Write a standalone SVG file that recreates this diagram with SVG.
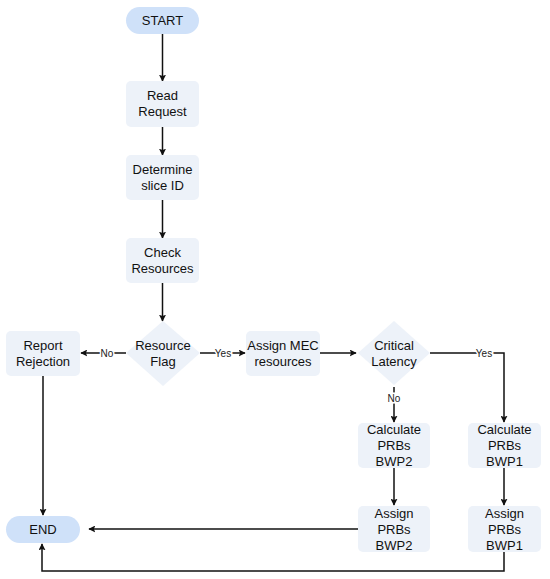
<svg xmlns="http://www.w3.org/2000/svg" width="550" height="579" viewBox="0 0 550 579">
<defs>
<style>
.pill{fill:#cfe1f9;}
.box{fill:#edf2f9;}
.t{font-family:"Liberation Sans",Arial,sans-serif;font-size:13px;fill:#111;text-anchor:middle;}
.lbl{font-family:"Liberation Sans",Arial,sans-serif;font-size:10px;fill:#222;text-anchor:middle;stroke:#fff;stroke-width:3px;paint-order:stroke;}
.c{fill:none;stroke:#111;stroke-width:1.5;}
.a{marker-end:url(#ah);}
</style>
<marker id="ah" viewBox="0 0 10 10" refX="9" refY="5" markerWidth="7" markerHeight="7" markerUnits="userSpaceOnUse" orient="auto">
<path d="M0,0 L10,5 L0,10 L2,5 Z" fill="#111"/>
</marker>
</defs>
<rect width="550" height="579" fill="#fff"/>
<g id="connectors">
<path class="c a" d="M162.5,34 V81"/>
<path class="c a" d="M162.5,127 V155"/>
<path class="c a" d="M162.5,200 V238"/>
<path class="c a" d="M162.5,283 V321"/>
<path class="c a" d="M126,353 H81"/>
<path class="c a" d="M200,353 H245"/>
<path class="c a" d="M320,353 H356"/>
<path class="c a" d="M430,353 H504 V422"/>
<path class="c a" d="M394,387 V422"/>
<path class="c a" d="M394,468 V505"/>
<path class="c a" d="M504,468 V505"/>
<path class="c a" d="M43,376 V515"/>
<path class="c a" d="M358,529 H89"/>
<path class="c a" d="M504,552 V571 H42 V544"/>
<text class="lbl" x="107" y="357">No</text>
<text class="lbl" x="223" y="357">Yes</text>
<text class="lbl" x="484" y="357">Yes</text>
<text class="lbl" x="394" y="402">No</text>
</g>
<g id="start"><rect class="pill" x="126" y="7" width="73" height="27" rx="13.5"/><text class="t" x="162.5" y="25">START</text></g>
<g id="read"><rect class="box" x="126" y="81" width="73" height="46" rx="5"/><text class="t" x="162.5" y="100">Read</text><text class="t" x="162.5" y="116">Request</text></g>
<g id="determine"><rect class="box" x="126" y="155" width="73" height="45" rx="5"/><text class="t" x="162.5" y="174">Determine</text><text class="t" x="162.5" y="190">slice ID</text></g>
<g id="check"><rect class="box" x="126" y="238" width="73" height="45" rx="5"/><text class="t" x="162.5" y="257">Check</text><text class="t" x="162.5" y="273">Resources</text></g>
<g id="flag"><path class="box" d="M163,321 L200,353 L163,386 L126,353 Z"/><text class="t" x="163" y="350">Resource</text><text class="t" x="163" y="366">Flag</text></g>
<g id="reject"><rect class="box" x="6" y="331" width="74" height="45" rx="5"/><text class="t" x="43" y="350">Report</text><text class="t" x="43" y="366">Rejection</text></g>
<g id="mec"><rect class="box" x="246" y="331" width="74" height="45" rx="5"/><text class="t" x="283" y="350">Assign MEC</text><text class="t" x="283" y="366">resources</text></g>
<g id="latency"><path class="box" d="M394,321 L430,353 L394,385 L358,353 Z"/><text class="t" x="394" y="350">Critical</text><text class="t" x="394" y="366">Latency</text></g>
<g id="calc2"><rect class="box" x="358" y="423" width="72" height="45" rx="5"/><text class="t" x="394" y="434">Calculate</text><text class="t" x="394" y="450">PRBs</text><text class="t" x="394" y="466">BWP2</text></g>
<g id="calc1"><rect class="box" x="468" y="423" width="73" height="45" rx="5"/><text class="t" x="504.5" y="434">Calculate</text><text class="t" x="504.5" y="450">PRBs</text><text class="t" x="504.5" y="466">BWP1</text></g>
<g id="assign2"><rect class="box" x="358" y="506" width="72" height="46" rx="5"/><text class="t" x="394" y="518">Assign</text><text class="t" x="394" y="534">PRBs</text><text class="t" x="394" y="550">BWP2</text></g>
<g id="assign1"><rect class="box" x="468" y="506" width="73" height="46" rx="5"/><text class="t" x="504.5" y="518">Assign</text><text class="t" x="504.5" y="534">PRBs</text><text class="t" x="504.5" y="550">BWP1</text></g>
<g id="end"><rect class="pill" x="6" y="516" width="74" height="27" rx="13.5"/><text class="t" x="43" y="534">END</text></g>
</svg>
